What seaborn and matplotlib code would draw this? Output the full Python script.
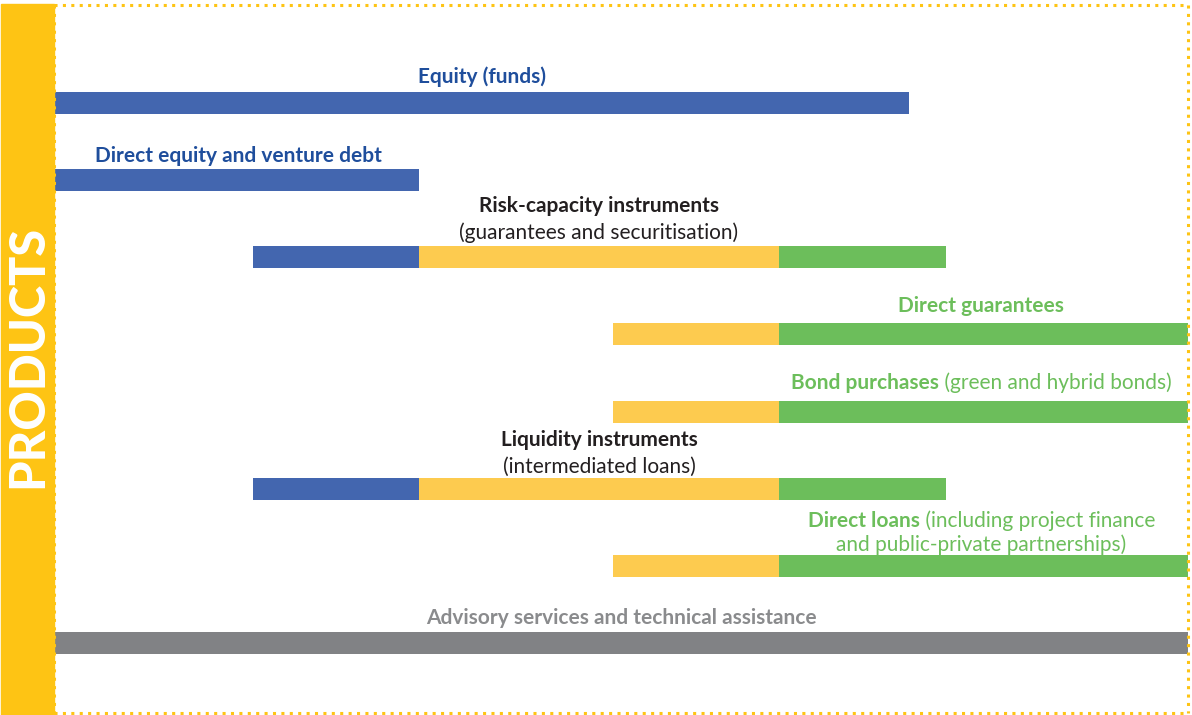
import numpy as np
import matplotlib.pyplot as plt
import matplotlib.lines as mlines
import matplotlib.patches as mpatches
import seaborn as sns

# ---- data -------------------------------------------------------------
products = [
    "Equity (funds)",
    "Direct equity and venture debt",
    "Risk-capacity instruments",
    "Direct guarantees",
    "Bond purchases",
    "Liquidity instruments",
    "Direct loans",
    "Advisory services and technical assistance",
]

# segment table: row index, start, end, phase (x in px from the left edge of the panel)
seg_row = [0, 1, 2, 2, 2, 3, 3, 4, 4, 5, 5, 5, 6, 6, 7]
seg_start = [0, 0, 199, 365, 725, 559, 725, 559, 725, 199, 365, 725, 559, 725, 0]
seg_end = [855, 365, 365, 725, 892, 725, 1134, 725, 1134, 365, 725, 892, 725, 1134, 1134]
seg_phase = ["early", "early", "early", "mid", "late", "mid", "late", "mid", "late",
             "early", "mid", "late", "mid", "late", "advice"]

phase_colors = {
    "early": "#4366AF",
    "mid": "#FDCB4F",
    "late": "#6CBE5B",
    "advice": "#818285",
}

BAND = "#FEC414"
BLUE_TXT = "#1F4E9C"
GREEN_TXT = "#6CBE5B"
DARK_TXT = "#231F20"
GREY_TXT = "#8A8B8D"

# ---- figure -----------------------------------------------------------
sns.set_theme(style="white")
plt.rcParams["font.family"] = ["Lato", "DejaVu Sans"]

W, H = 1192, 715
fig = plt.figure(figsize=(W / 100, H / 100), dpi=100)


def px(x, y):
    return x / W, 1 - y / H


# bars axes: panel from x=54 to 1188, rows spaced 77.14 px starting at y=103
row0, step = 103, 77.14
ax = fig.add_axes([54 / W, 0, (1188 - 54) / W, 1])
ax.set_xlim(0, 1134)
ax.set_ylim((H - row0) / step, -row0 / step)
ax.barh(seg_row, np.array(seg_end) - np.array(seg_start), left=seg_start,
        height=22 / step, color=[phase_colors[p] for p in seg_phase],
        edgecolor="none", zorder=2)
ax.axis("off")

# yellow side band
fig.patches.append(mpatches.Rectangle(px(1, 715), 53 / W, 711 / H,
                                      transform=fig.transFigure,
                                      color=BAND, zorder=0))
fig.text(*px(28, 356), "PRODUCTS", rotation=90, color="white",
         fontsize=35, fontweight="black", ha="center", va="center")

# dotted border
dot = dict(color=BAND, lw=2.2, linestyle=(0, (1, 1.75)), solid_capstyle="butt",
           dash_capstyle="butt", transform=fig.transFigure)
for (x0, y0), (x1, y1) in [((54, 5), (1188, 5)), ((54, 5), (54, 715)),
                           ((1188, 5), (1188, 713)), ((54, 713), (1188, 713))]:
    a, b = px(x0, y0), px(x1, y1)
    fig.add_artist(mlines.Line2D([a[0], b[0]], [a[1], b[1]], **dot))

fs = 15
dy = 2
bold = dict(fontsize=fs, fontweight="bold", va="center")
reg = dict(fontsize=fs, va="center")

fig.text(*px(482, 75 + dy), products[0], color=BLUE_TXT, ha="center", **bold)
fig.text(*px(238, 154 + dy), products[1], color=BLUE_TXT, ha="center", **bold)
fig.text(*px(599, 204 + dy), products[2], color=DARK_TXT, ha="center", **bold)
fig.text(*px(599, 231 + dy), "(guarantees and securitisation)", color=DARK_TXT, ha="center", **reg)
fig.text(*px(981, 304 + dy), products[3], color=GREEN_TXT, ha="center", **bold)
fig.text(*px(599, 438 + dy), products[5], color=DARK_TXT, ha="center", **bold)
fig.text(*px(599, 465 + dy), "(intermediated loans)", color=DARK_TXT, ha="center", **reg)
fig.text(*px(621, 616 + dy), products[7], color=GREY_TXT, ha="center", **bold)
fig.text(*px(981, 543 + dy), "and public-private partnerships)", color=GREEN_TXT, ha="center", **reg)

# mixed-weight labels: bold head followed by regular tail, centred as one
renderer = fig.canvas.get_renderer()


def mixed(cx, cy, head, tail, color):
    t1 = fig.text(*px(0, cy), head, color=color, ha="left", **bold)
    t2 = fig.text(*px(0, cy), tail, color=color, ha="left", **reg)
    w1 = t1.get_window_extent(renderer).width
    w2 = t2.get_window_extent(renderer).width
    x0 = cx - (w1 + w2) / 2
    t1.set_x(x0 / W)
    t2.set_x((x0 + w1) / W)


mixed(981, 381 + dy, products[4], " (green and hybrid bonds)", GREEN_TXT)
mixed(982, 519 + dy, products[6], " (including project finance", GREEN_TXT)

fig.savefig("out.png", dpi=100)
